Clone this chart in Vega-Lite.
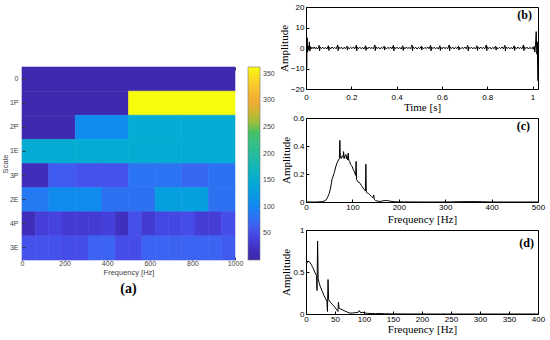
{
"$schema": "https://vega.github.io/schema/vega-lite/v6.json",
"background": "white",
"padding": {"left": 1, "top": 2, "right": 4, "bottom": 2},
"spacing": 2,
"resolve": {"scale": {"color": "independent"}, "legend": {"color": "independent"}},
"datasets": {
"heat": [
{"s":"0","f0":0,"f1":1000,"v":5},
{"s":"1P","f0":0,"f1":500,"v":5},{"s":"1P","f0":500,"f1":1000,"v":363},
{"s":"2P","f0":0,"f1":250,"v":5},{"s":"2P","f0":250,"f1":500,"v":105},{"s":"2P","f0":500,"f1":750,"v":148},{"s":"2P","f0":750,"f1":1000,"v":146},
{"s":"1E","f0":0,"f1":250,"v":147},{"s":"1E","f0":250,"f1":500,"v":147},{"s":"1E","f0":500,"f1":750,"v":147},{"s":"1E","f0":750,"f1":1000,"v":146},
{"s":"3P","f0":0,"f1":125,"v":15},{"s":"3P","f0":125,"f1":250,"v":62},{"s":"3P","f0":250,"f1":375,"v":55},{"s":"3P","f0":375,"f1":500,"v":55},{"s":"3P","f0":500,"f1":625,"v":82},{"s":"3P","f0":625,"f1":750,"v":82},{"s":"3P","f0":750,"f1":875,"v":72},{"s":"3P","f0":875,"f1":1000,"v":80},
{"s":"2E","f0":0,"f1":125,"v":88},{"s":"2E","f0":125,"f1":250,"v":105},{"s":"2E","f0":250,"f1":375,"v":105},{"s":"2E","f0":375,"f1":500,"v":80},{"s":"2E","f0":500,"f1":625,"v":80},{"s":"2E","f0":625,"f1":750,"v":130},{"s":"2E","f0":750,"f1":875,"v":130},{"s":"2E","f0":875,"f1":1000,"v":80},
{"s":"4P","f0":0,"f1":62.5,"v":15},{"s":"4P","f0":62.5,"f1":125,"v":38},{"s":"4P","f0":125,"f1":187.5,"v":42},{"s":"4P","f0":187.5,"f1":250,"v":34},{"s":"4P","f0":250,"f1":312.5,"v":34},{"s":"4P","f0":312.5,"f1":375,"v":34},{"s":"4P","f0":375,"f1":437.5,"v":40},{"s":"4P","f0":437.5,"f1":500,"v":20},{"s":"4P","f0":500,"f1":562.5,"v":52},{"s":"4P","f0":562.5,"f1":625,"v":33},{"s":"4P","f0":625,"f1":687.5,"v":46},{"s":"4P","f0":687.5,"f1":750,"v":46},{"s":"4P","f0":750,"f1":812.5,"v":50},{"s":"4P","f0":812.5,"f1":875,"v":36},{"s":"4P","f0":875,"f1":937.5,"v":36},{"s":"4P","f0":937.5,"f1":1000,"v":52},
{"s":"3E","f0":0,"f1":62.5,"v":55},{"s":"3E","f0":62.5,"f1":125,"v":55},{"s":"3E","f0":125,"f1":187.5,"v":55},{"s":"3E","f0":187.5,"f1":250,"v":50},{"s":"3E","f0":250,"f1":312.5,"v":50},{"s":"3E","f0":312.5,"f1":375,"v":68},{"s":"3E","f0":375,"f1":437.5,"v":68},{"s":"3E","f0":437.5,"f1":500,"v":50},{"s":"3E","f0":500,"f1":562.5,"v":50},{"s":"3E","f0":562.5,"f1":625,"v":68},{"s":"3E","f0":625,"f1":687.5,"v":68},{"s":"3E","f0":687.5,"f1":750,"v":68},{"s":"3E","f0":750,"f1":812.5,"v":68},{"s":"3E","f0":812.5,"f1":875,"v":68},{"s":"3E","f0":875,"f1":937.5,"v":68},{"s":"3E","f0":937.5,"f1":1000,"v":62}
],
"sigb": [
{"t":0,"a":0},{"t":0.001,"a":17.5},{"t":0.002,"a":4},{"t":0.003,"a":-10},{"t":0.004,"a":-3},{"t":0.005,"a":5},{"t":0.007,"a":-2},{"t":0.009,"a":1},{"t":0.011,"a":-1},{"t":0.013,"a":0.5},{"t":0.015,"a":3},{"t":0.017,"a":-1.5},{"t":0.019,"a":0.7},{"t":0.022,"a":-0.5},{"t":0.026,"a":0.4},{"t":0.031,"a":-0.3},{"t":0.036,"a":0.5},{"t":0.041,"a":-0.4},{"t":0.046,"a":0.3},{"t":0.051,"a":-0.5},{"t":0.055,"a":0.2},
{"t":0.058,"a":1.3},{"t":0.06,"a":-1.4},{"t":0.062,"a":0.5},{"t":0.068,"a":-0.3},{"t":0.074,"a":0.4},{"t":0.08,"a":-0.4},{"t":0.086,"a":0.3},{"t":0.092,"a":-0.5},
{"t":0.099,"a":1.1},{"t":0.101,"a":-1.2},{"t":0.103,"a":0.4},{"t":0.109,"a":-0.4},{"t":0.115,"a":0.5},{"t":0.121,"a":-0.3},{"t":0.127,"a":0.3},{"t":0.133,"a":-0.4},
{"t":0.14,"a":1.5},{"t":0.142,"a":-1.3},{"t":0.144,"a":0.6},{"t":0.15,"a":-0.3},{"t":0.156,"a":0.4},{"t":0.162,"a":-0.5},{"t":0.168,"a":0.3},{"t":0.174,"a":-0.3},
{"t":0.181,"a":0.9},{"t":0.183,"a":-1},{"t":0.185,"a":0.4},{"t":0.191,"a":-0.4},{"t":0.197,"a":0.3},{"t":0.203,"a":-0.3},{"t":0.209,"a":0.5},{"t":0.215,"a":-0.4},
{"t":0.222,"a":1.3},{"t":0.224,"a":-1.4},{"t":0.226,"a":0.5},{"t":0.232,"a":-0.3},{"t":0.238,"a":0.4},{"t":0.244,"a":-0.4},{"t":0.25,"a":0.3},{"t":0.256,"a":-0.5},
{"t":0.263,"a":1.1},{"t":0.265,"a":-1.2},{"t":0.267,"a":0.4},{"t":0.273,"a":-0.4},{"t":0.279,"a":0.5},{"t":0.285,"a":-0.3},{"t":0.291,"a":0.3},{"t":0.297,"a":-0.4},
{"t":0.304,"a":1.5},{"t":0.306,"a":-1.3},{"t":0.308,"a":0.6},{"t":0.314,"a":-0.3},{"t":0.32,"a":0.4},{"t":0.326,"a":-0.5},{"t":0.332,"a":0.3},{"t":0.338,"a":-0.3},
{"t":0.345,"a":0.9},{"t":0.347,"a":-1},{"t":0.349,"a":0.4},{"t":0.355,"a":-0.4},{"t":0.361,"a":0.3},{"t":0.367,"a":-0.3},{"t":0.373,"a":0.5},{"t":0.379,"a":-0.4},
{"t":0.386,"a":1.3},{"t":0.388,"a":-1.4},{"t":0.39,"a":0.5},{"t":0.396,"a":-0.3},{"t":0.402,"a":0.4},{"t":0.408,"a":-0.4},{"t":0.414,"a":0.3},{"t":0.42,"a":-0.5},
{"t":0.427,"a":1.1},{"t":0.429,"a":-1.2},{"t":0.431,"a":0.4},{"t":0.437,"a":-0.4},{"t":0.443,"a":0.5},{"t":0.449,"a":-0.3},{"t":0.455,"a":0.3},{"t":0.461,"a":-0.4},
{"t":0.468,"a":1.5},{"t":0.47,"a":-1.3},{"t":0.472,"a":0.6},{"t":0.478,"a":-0.3},{"t":0.484,"a":0.4},{"t":0.49,"a":-0.5},{"t":0.496,"a":0.3},{"t":0.502,"a":-0.3},
{"t":0.509,"a":0.9},{"t":0.511,"a":-1},{"t":0.513,"a":0.4},{"t":0.519,"a":-0.4},{"t":0.525,"a":0.3},{"t":0.531,"a":-0.3},{"t":0.537,"a":0.5},{"t":0.543,"a":-0.4},
{"t":0.55,"a":1.3},{"t":0.552,"a":-1.4},{"t":0.554,"a":0.5},{"t":0.56,"a":-0.3},{"t":0.566,"a":0.4},{"t":0.572,"a":-0.4},{"t":0.578,"a":0.3},{"t":0.584,"a":-0.5},
{"t":0.591,"a":1.1},{"t":0.593,"a":-1.2},{"t":0.595,"a":0.4},{"t":0.601,"a":-0.4},{"t":0.607,"a":0.5},{"t":0.613,"a":-0.3},{"t":0.619,"a":0.3},{"t":0.625,"a":-0.4},
{"t":0.632,"a":1.5},{"t":0.634,"a":-1.3},{"t":0.636,"a":0.6},{"t":0.642,"a":-0.3},{"t":0.648,"a":0.4},{"t":0.654,"a":-0.5},{"t":0.66,"a":0.3},{"t":0.666,"a":-0.3},
{"t":0.673,"a":0.9},{"t":0.675,"a":-1},{"t":0.677,"a":0.4},{"t":0.683,"a":-0.4},{"t":0.689,"a":0.3},{"t":0.695,"a":-0.3},{"t":0.701,"a":0.5},{"t":0.707,"a":-0.4},
{"t":0.714,"a":1.3},{"t":0.716,"a":-1.4},{"t":0.718,"a":0.5},{"t":0.724,"a":-0.3},{"t":0.73,"a":0.4},{"t":0.736,"a":-0.4},{"t":0.742,"a":0.3},{"t":0.748,"a":-0.5},
{"t":0.755,"a":1.1},{"t":0.757,"a":-1.2},{"t":0.759,"a":0.4},{"t":0.765,"a":-0.4},{"t":0.771,"a":0.5},{"t":0.777,"a":-0.3},{"t":0.783,"a":0.3},{"t":0.789,"a":-0.4},
{"t":0.796,"a":1.5},{"t":0.798,"a":-1.3},{"t":0.8,"a":0.6},{"t":0.806,"a":-0.3},{"t":0.812,"a":0.4},{"t":0.818,"a":-0.5},{"t":0.824,"a":0.3},{"t":0.83,"a":-0.3},
{"t":0.837,"a":0.9},{"t":0.839,"a":-1},{"t":0.841,"a":0.4},{"t":0.847,"a":-0.4},{"t":0.853,"a":0.3},{"t":0.859,"a":-0.3},{"t":0.865,"a":0.5},{"t":0.871,"a":-0.4},
{"t":0.878,"a":1.3},{"t":0.88,"a":-1.4},{"t":0.882,"a":0.5},{"t":0.888,"a":-0.3},{"t":0.894,"a":0.4},{"t":0.9,"a":-0.4},{"t":0.906,"a":0.3},{"t":0.912,"a":-0.5},
{"t":0.919,"a":1.1},{"t":0.921,"a":-1.2},{"t":0.923,"a":0.4},{"t":0.929,"a":-0.4},{"t":0.935,"a":0.5},{"t":0.941,"a":-0.3},{"t":0.947,"a":0.3},{"t":0.953,"a":-0.4},
{"t":0.96,"a":1.5},{"t":0.962,"a":-1.3},{"t":0.964,"a":0.6},{"t":0.97,"a":-0.3},{"t":0.976,"a":0.4},{"t":0.982,"a":-0.5},{"t":0.988,"a":0.3},{"t":0.994,"a":-0.3},
{"t":0.999,"a":0.3},{"t":1.003,"a":-0.6},{"t":1.007,"a":0.8},{"t":1.01,"a":-2},{"t":1.013,"a":1.5},{"t":1.016,"a":8},{"t":1.019,"a":-3},{"t":1.021,"a":3},{"t":1.023,"a":-16}
],
"specc": [
{"f":0,"a":0},{"f":20,"a":0},{"f":35,"a":0.002},{"f":42,"a":0.01},{"f":46,"a":0.03},{"f":50,"a":0.06},{"f":53,"a":0.1},{"f":55,"a":0.14},{"f":56,"a":0.16},{"f":58,"a":0.18},{"f":61,"a":0.21},{"f":64,"a":0.25},{"f":67,"a":0.28},{"f":70,"a":0.3},{"f":72,"a":0.31},{"f":73,"a":0.44},{"f":74,"a":0.32},{"f":76,"a":0.31},{"f":78,"a":0.33},{"f":80,"a":0.32},{"f":81,"a":0.36},{"f":82,"a":0.31},{"f":84,"a":0.33},{"f":86,"a":0.34},{"f":87,"a":0.31},{"f":88,"a":0.33},{"f":90,"a":0.3},{"f":91,"a":0.35},{"f":92,"a":0.3},{"f":94,"a":0.29},{"f":96,"a":0.27},{"f":98,"a":0.26},{"f":100,"a":0.25},{"f":102,"a":0.23},{"f":104,"a":0.22},{"f":106,"a":0.2},{"f":107,"a":0.19},{"f":108,"a":0.29},{"f":109,"a":0.16},{"f":111,"a":0.15},{"f":113,"a":0.14},{"f":115,"a":0.14},{"f":117,"a":0.13},{"f":119,"a":0.12},{"f":121,"a":0.11},{"f":123,"a":0.1},{"f":125,"a":0.09},{"f":127,"a":0.085},{"f":128,"a":0.08},{"f":129,"a":0.27},{"f":130,"a":0.07},{"f":132,"a":0.065},{"f":135,"a":0.06},{"f":138,"a":0.05},{"f":141,"a":0.04},{"f":144,"a":0.03},{"f":146,"a":0.05},{"f":147,"a":0.02},{"f":150,"a":0.01},{"f":155,"a":0.006},{"f":160,"a":0.004},{"f":165,"a":0.008},{"f":170,"a":0.01},{"f":175,"a":0.01},{"f":180,"a":0.007},{"f":185,"a":0.004},{"f":190,"a":0.002},{"f":200,"a":0.001},{"f":250,"a":0},{"f":300,"a":0},{"f":330,"a":0.002},{"f":350,"a":0.003},{"f":380,"a":0.002},{"f":400,"a":0},{"f":500,"a":0}
],
"specd": [
{"f":0,"a":0.4},{"f":1,"a":0.6},{"f":3,"a":0.63},{"f":6,"a":0.62},{"f":9,"a":0.59},{"f":12,"a":0.55},{"f":15,"a":0.5},{"f":18,"a":0.46},{"f":19,"a":0.28},{"f":20,"a":0.87},{"f":21,"a":0.42},{"f":23,"a":0.36},{"f":25,"a":0.32},{"f":28,"a":0.27},{"f":31,"a":0.22},{"f":34,"a":0.18},{"f":36,"a":0.15},{"f":37,"a":0.03},{"f":38,"a":0.41},{"f":39,"a":0.17},{"f":42,"a":0.14},{"f":46,"a":0.11},{"f":50,"a":0.08},{"f":53,"a":0.05},{"f":55,"a":0.03},{"f":56,"a":0.14},{"f":57,"a":0.07},{"f":59,"a":0.06},{"f":63,"a":0.05},{"f":67,"a":0.035},{"f":72,"a":0.02},{"f":76,"a":0.01},{"f":80,"a":0.012},{"f":85,"a":0.015},{"f":90,"a":0.02},{"f":92,"a":0.04},{"f":94,"a":0.015},{"f":98,"a":0.02},{"f":102,"a":0.012},{"f":106,"a":0.008},{"f":112,"a":0.005},{"f":120,"a":0.004},{"f":128,"a":0.006},{"f":135,"a":0.003},{"f":150,"a":0.001},{"f":200,"a":0},{"f":300,"a":0},{"f":400,"a":0}
]
},
"hconcat": [
{
"spacing": 0,
"resolve": {"scale": {"color": "independent"}, "legend": {"color": "independent"}},
"vconcat": [
{
"width": 213, "height": 59,
"view": {"stroke": null, "fill": "white"},
"data": {"values": []},
"mark": {"type": "text"},
"encoding": {}
},
{
"width": 213, "height": 193,
"view": {"stroke": null},
"title": {"text": "(a)", "orient": "bottom", "anchor": "middle", "frame": "group", "font": "Liberation Serif", "fontSize": 14, "fontWeight": "bold", "color": "black", "offset": 6},
"data": {"name": "heat"},
"layer": [
{"mark": {"type": "rect", "strokeWidth": 0.6},
"encoding": {
"x": {"field": "f0", "type": "quantitative", "scale": {"domain": [0, 1000], "nice": false}, "axis": {"orient": "bottom", "values": [0,200,400,600,800,1000], "format": "d", "title": "Frequency [Hz]", "labelFontSize": 7, "labelColor": "#444", "titleFont": "Liberation Sans", "titleFontSize": 7.5, "titleColor": "#444", "tickColor": "#333", "tickSize": -3, "labelPadding": 2, "titlePadding": 2}},
"x2": {"field": "f1"},
"y": {"field": "s", "type": "nominal", "sort": ["0","1P","2P","1E","3P","2E","4P","3E"], "scale": {"paddingInner": 0, "paddingOuter": 0}, "axis": {"title": "Scale", "labelFontSize": 7, "labelColor": "#444", "titleFont": "Liberation Sans", "titleFontSize": 7.5, "titleColor": "#444", "tickColor": "#333", "tickSize": -3, "labelPadding": 7, "titlePadding": 0}},
"color": {"field": "v", "type": "quantitative",
"scale": {"domain": [0,20,40,55,70,85,105,130,150,185,215,240,255,275,300,330,363], "range": ["#3e26a8","#4030c0","#4540dc","#4652ec","#3a66f2","#2777f4","#108bee","#069fe0","#04aed2","#1ab9ae","#33bf8c","#45c064","#90c040","#c9b72e","#f2ac36","#f7c82c","#f9fb0e"], "interpolate": "rgb"},
"legend": {"title": null, "values": [50,100,150,200,250,300,350], "direction": "vertical", "gradientLength": 193, "gradientThickness": 12, "offset": 13, "labelFontSize": 7, "labelColor": "#444", "labelFont": "Liberation Sans", "gradientStrokeColor": "#777", "gradientStrokeWidth": 0.6, "labelOffset": 3}},
"stroke": {"field": "v", "type": "quantitative",
"scale": {"domain": [0,20,40,55,70,85,105,130,150,185,215,240,255,275,300,330,363], "range": ["#3e26a8","#4030c0","#4540dc","#4652ec","#3a66f2","#2777f4","#108bee","#069fe0","#04aed2","#1ab9ae","#33bf8c","#45c064","#90c040","#c9b72e","#f2ac36","#f7c82c","#f9fb0e"], "interpolate": "rgb"},
"legend": null}
}},
{"mark": {"type": "rect", "opacity": 0},
"encoding": {
"x": {"field": "f0", "type": "quantitative", "axis": {"orient": "top", "labels": false, "values": [0,200,400,600,800,1000], "title": null, "tickColor": "#333", "tickSize": -3}},
"x2": {"field": "f1"}
}}
],
"resolve": {"axis": {"x": "independent"}}
}
]
},
{
"spacing": 0,
"vconcat": [
{
"width": 232, "height": 82,
"title": {"text": "(b)", "orient": "top", "anchor": "end", "frame": "group", "offset": 0, "dy": 19, "dx": -6, "font": "Liberation Serif", "fontSize": 12, "fontWeight": "bold", "color": "black"},
"data": {"name": "sigb"},
"mark": {"type": "line", "color": "black", "strokeWidth": 1, "clip": true},
"encoding": {
"x": {"field": "t", "type": "quantitative", "scale": {"domain": [0, 1.024], "nice": false, "zero": false}, "axis": {"title": "Time [s]", "values": [0,0.2,0.4,0.6,0.8,1], "format": "~g", "labelPadding": 7, "titlePadding": 0}},
"y": {"field": "a", "type": "quantitative", "scale": {"domain": [-20, 20], "nice": false}, "axis": {"title": "Amplitude", "values": [-20,-10,0,10,20]}}
}
},
{
"width": 232, "height": 84,
"title": {"text": "(c)", "orient": "top", "anchor": "end", "frame": "group", "offset": 0, "dy": 19, "dx": -8, "font": "Liberation Serif", "fontSize": 12, "fontWeight": "bold", "color": "black"},
"data": {"name": "specc"},
"mark": {"type": "line", "color": "black", "strokeWidth": 1, "clip": true},
"encoding": {
"x": {"field": "f", "type": "quantitative", "scale": {"domain": [0, 500], "nice": false}, "axis": {"title": "Frequency [Hz]", "values": [0,100,200,300,400,500], "labelPadding": 4, "titlePadding": 2}},
"y": {"field": "a", "type": "quantitative", "scale": {"domain": [0, 0.6], "nice": false}, "axis": {"title": "Amplitude", "values": [0,0.2,0.4,0.6], "format": "~g"}}
}
},
{
"width": 232, "height": 84,
"title": {"text": "(d)", "orient": "top", "anchor": "end", "frame": "group", "offset": 0, "dy": 24, "dx": -4, "font": "Liberation Serif", "fontSize": 12, "fontWeight": "bold", "color": "black"},
"data": {"name": "specd"},
"mark": {"type": "line", "color": "black", "strokeWidth": 1, "clip": true},
"encoding": {
"x": {"field": "f", "type": "quantitative", "scale": {"domain": [0, 400], "nice": false}, "axis": {"title": "Frequency [Hz]", "values": [0,50,100,150,200,250,300,350,400], "labelPadding": 4, "titlePadding": 0}},
"y": {"field": "a", "type": "quantitative", "scale": {"domain": [0, 1], "nice": false}, "axis": {"title": "Amplitude", "values": [0,0.5,1], "format": "~g"}}
}
}
]
}
],
"config": {
"view": {"stroke": "black", "strokeWidth": 1},
"axis": {"grid": false, "domain": false, "tickColor": "black", "tickSize": -3, "labelFont": "Liberation Sans", "labelFontSize": 8, "labelColor": "black", "titleFont": "Liberation Serif", "titleFontSize": 11, "titleFontWeight": "normal", "titleColor": "black", "labelPadding": 5, "titlePadding": 1, "labelFlush": false, "labelOverlap": false}
}
}
